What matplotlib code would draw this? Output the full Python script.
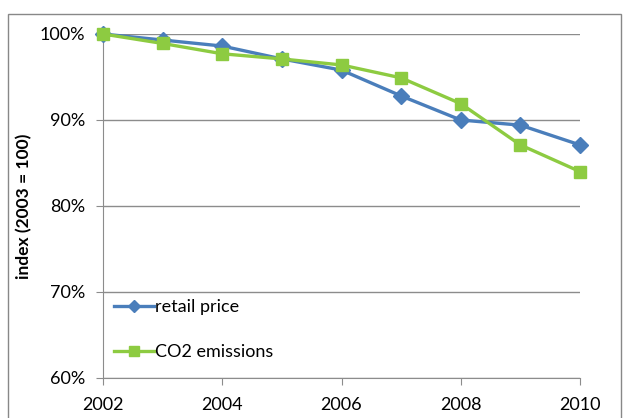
import matplotlib
matplotlib.use("Agg")
import matplotlib.pyplot as plt
from matplotlib.patches import Rectangle
from matplotlib.ticker import FuncFormatter

years = [2002, 2003, 2004, 2005, 2006, 2007, 2008, 2009, 2010]
retail_price = [100.0, 99.3, 98.6, 97.1, 95.8, 92.8, 90.0, 89.4, 87.1]
co2_emissions = [100.0, 98.9, 97.7, 97.1, 96.4, 94.9, 91.9, 87.1, 84.0]
x_ticks = [2002, 2004, 2006, 2008, 2010]
y_ticks = [60, 70, 80, 90, 100]

plt.rcParams['font.family'] = ['Lato', 'DejaVu Sans']

W, H = 627, 418
fig = plt.figure(figsize=(W/100, H/100), dpi=100)
fig.patches.append(Rectangle((8/W, -0.1), (621-8)/W, (418-14)/H + 0.1, transform=fig.transFigure,
                             fill=False, edgecolor='#888888', linewidth=1.0))
ax = fig.add_axes([103/W, 40/H, (580-103)/W, (378-34)/H])

blue = '#4A7EBB'
green = '#8DCB41'
ax.plot(years, retail_price, color=blue, lw=2.4, marker='D', ms=8, label='retail price', zorder=3)
ax.plot(years, co2_emissions, color=green, lw=2.4, marker='s', ms=9, label='CO2 emissions', zorder=4)

ax.set_xlim(2002, 2010)
ax.set_ylim(60, 100)
ax.set_xticks(x_ticks)
ax.set_yticks(y_ticks)
ax.yaxis.set_major_formatter(FuncFormatter(lambda v, p: f"{v:.0f}%"))
ax.grid(axis='y', color='#8c8c8c', lw=1.0)
ax.set_axisbelow(True)
for s in ['top', 'right']:
    ax.spines[s].set_visible(False)
for s in ['left', 'bottom']:
    ax.spines[s].set_color('#8c8c8c')
ax.tick_params(axis='both', colors='#8c8c8c', labelcolor='black', labelsize=13, length=5, direction='out')
ax.tick_params(axis='x', pad=9)
ax.tick_params(axis='y', pad=8)
ax.set_ylabel('index (2003 = 100)', fontsize=12.5, fontweight='bold', labelpad=5)
for l in ax.lines:
    l.set_clip_on(False)

leg = ax.legend(loc='lower left', bbox_to_anchor=(0.0, 0.02), frameon=False, fontsize=13,
                handlelength=2.2, handletextpad=0.1, labelspacing=1.6, borderaxespad=0.2,
                markerscale=0.8)

fig.savefig('out.png', dpi=100)
